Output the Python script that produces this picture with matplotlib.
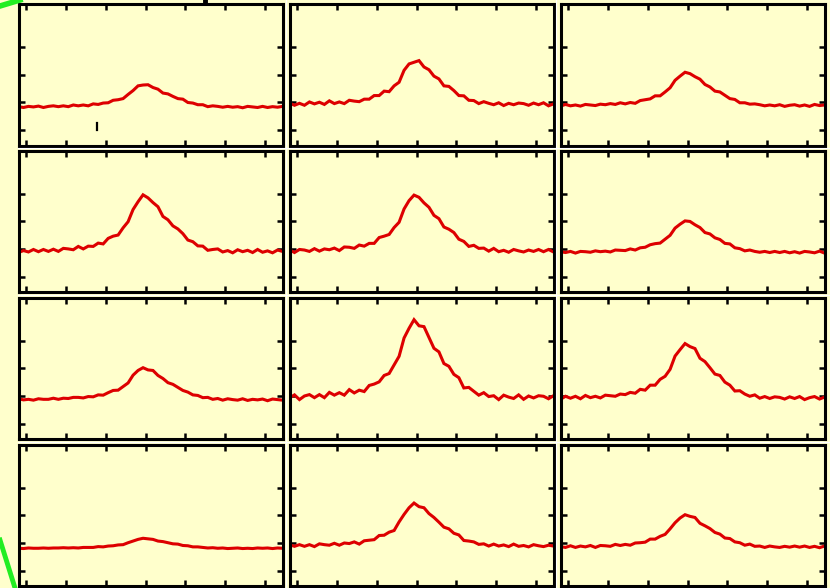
import numpy as np
import matplotlib
matplotlib.use("Agg")
import matplotlib.pyplot as plt
from matplotlib.lines import Line2D

# sample positions shared by every trace
x = np.linspace(-0.2, 6.45, 54)

# traces, row by row (top-left first)
r1c1 = [0.85, 0.82, 0.86, 0.84, 0.87, 0.82, 0.86, 0.88, 0.85, 0.88, 0.85, 0.91, 0.88, 0.91, 0.88, 0.95, 0.93, 0.98,
        0.99, 1.08, 1.10, 1.14, 1.29, 1.43, 1.60, 1.63, 1.64, 1.54, 1.48, 1.34, 1.31, 1.22, 1.14, 1.12, 1.00, 0.98,
        0.92, 0.92, 0.85, 0.88, 0.86, 0.83, 0.86, 0.83, 0.85, 0.81, 0.86, 0.84, 0.82, 0.86, 0.82, 0.85, 0.83, 0.86]
r1c2 = [0.98, 0.90, 0.97, 0.90, 1.02, 0.95, 1.01, 0.93, 1.06, 0.96, 1.02, 0.96, 1.08, 1.05, 1.03, 1.12, 1.12, 1.25,
        1.25, 1.41, 1.39, 1.60, 1.73, 2.16, 2.39, 2.45, 2.51, 2.28, 2.18, 1.95, 1.85, 1.60, 1.58, 1.43, 1.25, 1.24,
        1.08, 1.07, 0.96, 1.03, 0.97, 0.92, 0.99, 0.89, 0.97, 0.92, 0.98, 0.96, 0.90, 0.98, 0.92, 0.99, 0.88, 0.95]
r1c3 = [0.87, 0.93, 0.88, 0.91, 0.87, 0.93, 0.91, 0.89, 0.94, 0.92, 0.96, 0.93, 0.99, 0.95, 1.00, 0.97, 1.07, 1.10,
        1.13, 1.24, 1.24, 1.38, 1.53, 1.80, 1.95, 2.09, 2.04, 1.93, 1.84, 1.65, 1.56, 1.41, 1.38, 1.26, 1.14, 1.11,
        0.99, 0.99, 0.94, 0.95, 0.92, 0.88, 0.91, 0.88, 0.92, 0.86, 0.90, 0.92, 0.87, 0.91, 0.86, 0.93, 0.89, 0.91]
r2c1 = [0.88, 0.95, 0.90, 0.99, 0.91, 0.99, 0.92, 1.00, 0.92, 1.03, 1.01, 0.98, 1.10, 1.01, 1.11, 1.10, 1.22, 1.19,
        1.39, 1.47, 1.51, 1.77, 1.99, 2.43, 2.71, 2.96, 2.85, 2.68, 2.53, 2.18, 2.06, 1.84, 1.73, 1.56, 1.33, 1.27,
        1.12, 1.11, 0.96, 0.99, 1.01, 0.90, 0.95, 0.87, 0.98, 0.91, 0.96, 0.88, 0.99, 0.89, 0.94, 0.87, 0.97, 0.92]
r2c2 = [0.98, 0.88, 0.99, 0.97, 0.92, 1.02, 0.93, 1.01, 0.98, 1.04, 0.95, 1.08, 1.07, 1.03, 1.15, 1.11, 1.21, 1.21,
        1.42, 1.47, 1.53, 1.78, 1.97, 2.45, 2.75, 2.95, 2.87, 2.67, 2.51, 2.22, 2.10, 1.80, 1.72, 1.60, 1.36, 1.28,
        1.10, 1.14, 1.03, 1.04, 0.93, 1.03, 0.91, 0.96, 0.89, 0.99, 0.94, 0.90, 0.97, 0.92, 0.99, 0.91, 0.99, 0.90]
r2c3 = [0.91, 0.88, 0.92, 0.86, 0.92, 0.91, 0.89, 0.94, 0.91, 0.93, 0.90, 0.97, 0.96, 0.95, 1.01, 0.97, 1.05, 1.07,
        1.16, 1.20, 1.22, 1.36, 1.50, 1.76, 1.90, 2.02, 2.00, 1.88, 1.78, 1.60, 1.55, 1.41, 1.35, 1.21, 1.19, 1.05,
        1.02, 0.94, 0.97, 0.92, 0.89, 0.92, 0.88, 0.92, 0.88, 0.92, 0.87, 0.91, 0.86, 0.92, 0.90, 0.87, 0.93, 0.86]
r3c1 = [0.90, 0.86, 0.88, 0.85, 0.90, 0.88, 0.88, 0.92, 0.88, 0.92, 0.91, 0.95, 0.95, 0.93, 0.98, 0.97, 1.04, 1.03,
        1.12, 1.20, 1.21, 1.34, 1.47, 1.75, 1.92, 2.02, 1.94, 1.92, 1.74, 1.63, 1.48, 1.42, 1.31, 1.20, 1.14, 1.04,
        1.02, 0.94, 0.95, 0.88, 0.91, 0.85, 0.90, 0.87, 0.85, 0.90, 0.84, 0.88, 0.86, 0.89, 0.83, 0.89, 0.87, 0.85]
r3c2 = [0.93, 1.04, 0.87, 1.00, 1.05, 0.94, 1.05, 0.94, 1.13, 1.03, 1.12, 1.03, 1.23, 1.11, 1.21, 1.16, 1.38, 1.43,
        1.51, 1.74, 1.81, 2.12, 2.43, 3.09, 3.44, 3.75, 3.53, 3.50, 3.11, 2.72, 2.59, 2.17, 2.07, 1.78, 1.66, 1.29,
        1.31, 1.17, 1.03, 1.12, 0.98, 1.01, 0.87, 1.03, 0.96, 0.91, 1.04, 0.88, 1.00, 0.93, 1.01, 0.99, 0.90, 1.01]
r3c3 = [0.88, 0.99, 0.92, 0.99, 0.90, 1.02, 0.94, 0.99, 0.93, 1.03, 1.01, 0.99, 1.07, 1.05, 1.13, 1.10, 1.24, 1.21,
        1.39, 1.39, 1.60, 1.71, 1.96, 2.44, 2.67, 2.89, 2.78, 2.71, 2.36, 2.24, 2.02, 1.79, 1.74, 1.50, 1.39, 1.18,
        1.19, 1.07, 0.99, 1.04, 0.92, 0.98, 0.91, 0.97, 0.95, 0.89, 0.97, 0.91, 0.98, 0.87, 0.94, 0.98, 0.89, 0.96]
r4c1 = [0.81, 0.80, 0.82, 0.81, 0.81, 0.82, 0.81, 0.82, 0.82, 0.83, 0.82, 0.83, 0.82, 0.84, 0.84, 0.84, 0.87, 0.86,
        0.89, 0.90, 0.93, 0.94, 1.01, 1.07, 1.13, 1.17, 1.15, 1.13, 1.07, 1.05, 1.01, 0.97, 0.96, 0.91, 0.90, 0.86,
        0.86, 0.84, 0.82, 0.83, 0.81, 0.82, 0.80, 0.81, 0.82, 0.80, 0.81, 0.80, 0.82, 0.81, 0.82, 0.80, 0.82, 0.81]
r4c2 = [0.94, 0.88, 0.94, 0.88, 0.94, 0.87, 0.97, 0.94, 0.92, 0.99, 0.92, 1.00, 0.98, 1.04, 0.96, 1.08, 1.10, 1.12,
        1.27, 1.28, 1.39, 1.45, 1.76, 2.03, 2.27, 2.44, 2.31, 2.27, 2.06, 1.92, 1.75, 1.57, 1.51, 1.35, 1.29, 1.09,
        1.07, 1.04, 0.95, 0.97, 0.89, 0.96, 0.89, 0.93, 0.87, 0.96, 0.88, 0.91, 0.86, 0.94, 0.90, 0.87, 0.92, 0.89]
r4c3 = [0.87, 0.84, 0.90, 0.84, 0.89, 0.86, 0.91, 0.84, 0.91, 0.90, 0.88, 0.95, 0.91, 0.95, 0.92, 1.00, 1.01, 1.03,
        1.14, 1.14, 1.24, 1.31, 1.51, 1.73, 1.90, 2.02, 1.96, 1.92, 1.71, 1.62, 1.52, 1.38, 1.32, 1.18, 1.16, 1.04,
        1.01, 0.92, 0.96, 0.88, 0.89, 0.84, 0.89, 0.86, 0.84, 0.88, 0.85, 0.89, 0.85, 0.89, 0.84, 0.88, 0.83, 0.89]

traces = [[r1c1, r1c2, r1c3],
          [r2c1, r2c2, r2c3],
          [r3c1, r3c2, r3c3],
          [r4c1, r4c2, r4c3]]

xticks = [0, 1, 2, 3, 4, 5, 6]
yticks = [0, 1, 2, 3]

# stray cursor mark in the first panel
cursor_x = 1.77
cursor_y = (0.0, 0.26)

BG = "#FFFFCC"
RED = "#DD0000"
W, H = 830, 588

fig = plt.figure(figsize=(8.3, 5.88), dpi=100, facecolor=BG)

col_left = [18.5, 289.5, 560.5]
row_top = [4.0, 150.7, 297.5, 444.5]
pw, ph = 264.0, 141.5

axes = []
for r in range(4):
    for c in range(3):
        ax = fig.add_axes([col_left[c] / W, 1 - (row_top[r] + ph) / H, pw / W, ph / H])
        ax.set_facecolor(BG)
        ax.plot(x, traces[r][c], color=RED, lw=2.2, solid_joinstyle="miter")
        ax.set_xlim(-0.2, 6.45)
        ax.set_ylim(-0.55, 4.55)
        ax.set_xticks(xticks)
        ax.set_yticks(yticks)
        ax.tick_params(direction="in", length=4.5, width=1.8, top=True, right=True,
                       labelbottom=False, labelleft=False, color="black")
        for s in ax.spines.values():
            s.set_linewidth(2.2)
            s.set_color("black")
        axes.append(ax)

axes[0].plot([cursor_x, cursor_x], cursor_y, color="black", lw=1.6)

# thin white separators between the panels
for yy in [148.3, 295.1, 442.0]:
    fig.add_artist(Line2D([18 / W, 1], [1 - yy / H, 1 - yy / H], color="white", lw=0.8))
for xx in [285.8, 556.3]:
    fig.add_artist(Line2D([xx / W, xx / W], [0, 1], color="white", lw=0.8))

# green guide strokes at the left edge
fig.add_artist(Line2D([0, 20 / W], [1 - 6 / H, 1], color="#22EE22", lw=4))
fig.add_artist(Line2D([0, 15 / W], [1 - 540 / H, 0], color="#22EE22", lw=3.5))
fig.add_artist(Line2D([205 / W, 205 / W], [1 - 3 / H, 1], color="black", lw=3.5))

fig.savefig("out.png", dpi=100, facecolor=BG)
